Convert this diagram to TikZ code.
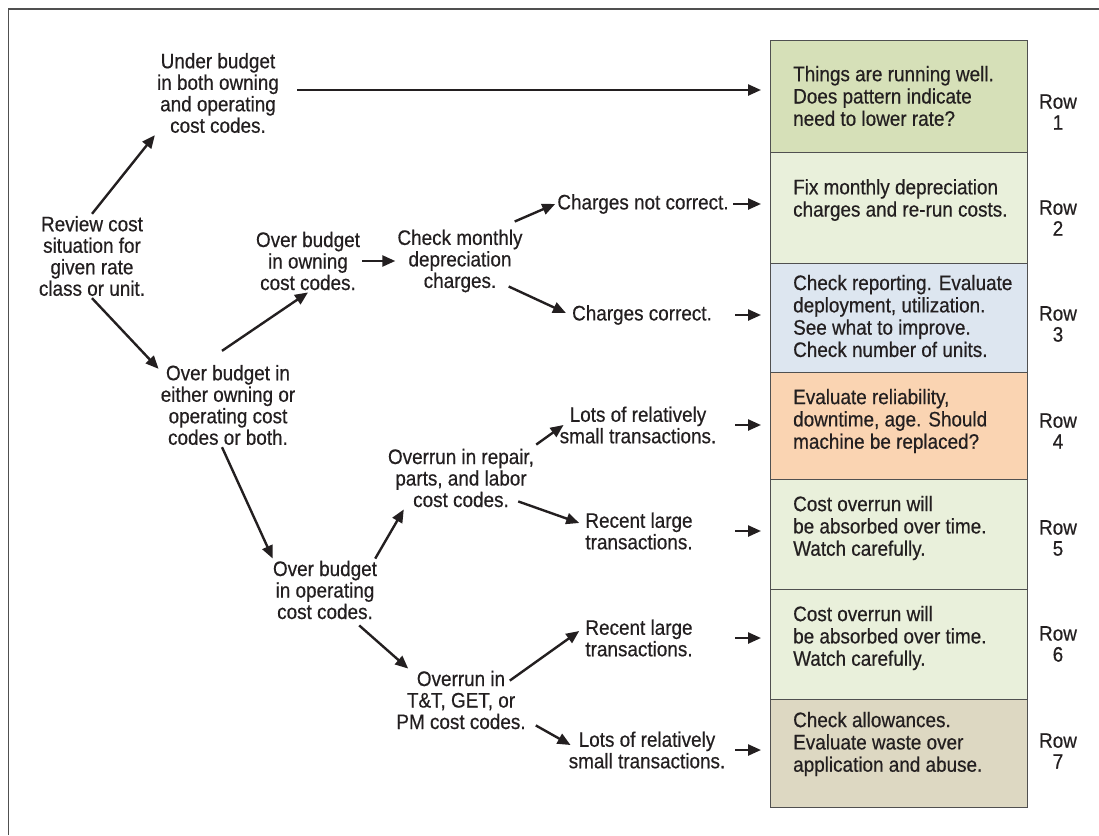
\documentclass[tikz,border=0pt]{standalone}
\usepackage{fontspec}
\setmainfont{Liberation Sans}[FakeStretch=0.9,FakeBold=0.5]
\usetikzlibrary{arrows.meta,calc}
\definecolor{ink}{HTML}{231F20}
\definecolor{cA}{RGB}{214,224,184}
\definecolor{cB}{RGB}{233,240,219}
\definecolor{cC}{RGB}{221,230,240}
\definecolor{cD}{RGB}{250,212,178}
\definecolor{cE}{RGB}{221,216,194}
\definecolor{edge}{RGB}{80,80,80}
\tikzset{
  txt/.style={align=center,inner sep=2pt,text=ink,font=\fontsize{21}{21.5}\selectfont},
  boxtxt/.style={align=left,inner sep=0pt,anchor=west,text=ink,font=\fontsize{21}{22.3}\selectfont},
  rowlab/.style={align=center,inner sep=0pt,text=ink,font=\fontsize{21}{21}\selectfont},
  rowbox/.style={draw=edge,line width=1.3pt,minimum width=257pt,inner sep=0pt,anchor=north west},
  arr/.style={draw=ink,line width=2.4pt,-{Triangle[length=13pt,width=11pt]}},
}
\begin{document}
\begin{tikzpicture}[x=1pt,y=-1pt]
\useasboundingbox (0,0) rectangle (1099,835);
\draw[edge,line width=1.4pt] (8.5,835) -- (8.5,9) -- (1099,9);
% boxes
\node[rowbox,fill=cA,minimum height=112pt] (r1) at (770,40) {};
\node[rowbox,fill=cB,minimum height=111pt] (r2) at (770,152) {};
\node[rowbox,fill=cC,minimum height=109pt] (r3) at (770,263) {};
\node[rowbox,fill=cD,minimum height=107pt] (r4) at (770,372) {};
\node[rowbox,fill=cB,minimum height=110pt] (r5) at (770,479) {};
\node[rowbox,fill=cB,minimum height=110pt] (r6) at (770,589) {};
\node[rowbox,fill=cE,minimum height=108pt] (r7) at (770,699) {};
% box texts
\node[boxtxt] (t1) at (793,96) {Things are running well.\\Does pattern indicate\\need to lower rate?};
\node[boxtxt] (t2) at (793,200) {Fix monthly depreciation\\charges and re-run costs.};
\node[boxtxt] (t3) at (793,316) {Check reporting. Evaluate\\deployment, utilization.\\See what to improve.\\Check number of units.};
\node[boxtxt] (t4) at (793,421) {Evaluate reliability,\\downtime, age. Should\\machine be replaced?};
\node[boxtxt] (t5) at (793,528) {Cost overrun will\\be absorbed over time.\\Watch carefully.};
\node[boxtxt] (t6) at (793,638) {Cost overrun will\\be absorbed over time.\\Watch carefully.};
\node[boxtxt] (t7) at (793,744) {Check allowances.\\Evaluate waste over\\application and abuse.};
% row labels
\node[rowlab] (l1) at (1058,112) {Row\\1};
\node[rowlab] (l2) at (1058,218) {Row\\2};
\node[rowlab] (l3) at (1058,324) {Row\\3};
\node[rowlab] (l4) at (1058,431) {Row\\4};
\node[rowlab] (l5) at (1058,538) {Row\\5};
\node[rowlab] (l6) at (1058,644) {Row\\6};
\node[rowlab] (l7) at (1058,751) {Row\\7};
% tree nodes
\node[txt] (rev) at (92,256) {Review cost\\situation for\\given rate\\class or unit.};
\node[txt] (under) at (218,93) {Under budget\\in both owning\\and operating\\cost codes.};
\node[txt] (either) at (228,405) {Over budget in\\either owning or\\operating cost\\codes or both.};
\node[txt] (own) at (308,261) {Over budget\\in owning\\cost codes.};
\node[txt] (chk) at (460,261) {Check monthly\\depreciation\\charges.};
\node[txt] (notc) at (643,204) {Charges not correct.};
\node[txt] (corr) at (642,315) {Charges correct.};
\node[txt] (oper) at (325,590) {Over budget\\in operating\\cost codes.};
\node[txt] (rep) at (461,478) {Overrun in repair,\\parts, and labor\\cost codes.};
\node[txt] (lots4) at (638,425) {Lots of relatively\\small transactions.};
\node[txt] (rec5) at (639,531) {Recent large\\transactions.};
\node[txt] (tt) at (461,700) {Overrun in\\T\&T, GET, or\\PM cost codes.};
\node[txt] (rec6) at (639,638) {Recent large\\transactions.};
\node[txt] (lots7) at (647,750) {Lots of relatively\\small transactions.};
% tree arrows
\draw[arr] (rev.north) -- (under.south west);
\draw[arr] (rev.south) -- ([yshift=-6pt]either.north west);
\draw[arr] ([xshift=-6pt,yshift=12pt]either.north) -- (own.south);
\draw[arr] (own.east) -- (chk.west);
\draw[arr] ([xshift=-10pt,yshift=6pt]chk.north east) -- (notc.west);
\draw[arr] ([xshift=-16pt,yshift=8pt]chk.south east) -- ([xshift=-4pt,yshift=2pt]corr.west);
\draw[arr] ([xshift=-6pt]either.south) -- ([xshift=2pt]oper.north west);
\draw[arr] ([xshift=-4pt]oper.north east) -- ([xshift=18pt]rep.south west);
\draw[arr] ([yshift=2pt]rep.north east) -- ([xshift=6pt]lots4.west);
\draw[arr] ([xshift=-18pt,yshift=8pt]rep.south east) -- ([xshift=-4pt,yshift=8pt]rec5.west);
\draw[arr] ([xshift=-20pt,yshift=-4pt]oper.south east) -- ([xshift=14pt]tt.north west);
\draw[arr] ([xshift=-18pt,yshift=-12pt]tt.north east) -- ([xshift=-4pt,yshift=7pt]rec6.west);
\draw[arr] ([xshift=8pt,yshift=6pt]tt.south east) -- ([xshift=4pt,yshift=5pt]lots7.west);
% arrows to boxes
\draw[arr] ([xshift=16pt,yshift=3pt]under.east) -- ([xshift=-9pt,yshift=3pt]under.east -| r1.west);
\draw[arr] ([xshift=-37pt]notc.east -| r2.west) -- ([xshift=-9pt]notc.east -| r2.west);
\draw[arr] ([xshift=-35pt]corr.east -| r3.west) -- ([xshift=-9pt]corr.east -| r3.west);
\draw[arr] ([xshift=-35pt]lots4.east -| r4.west) -- ([xshift=-9pt]lots4.east -| r4.west);
\draw[arr] ([xshift=-35pt]rec5.east -| r5.west) -- ([xshift=-9pt]rec5.east -| r5.west);
\draw[arr] ([xshift=-35pt]rec6.east -| r6.west) -- ([xshift=-9pt]rec6.east -| r6.west);
\draw[arr] ([xshift=-35pt]lots7.east -| r7.west) -- ([xshift=-9pt]lots7.east -| r7.west);
\end{tikzpicture}
\end{document}
